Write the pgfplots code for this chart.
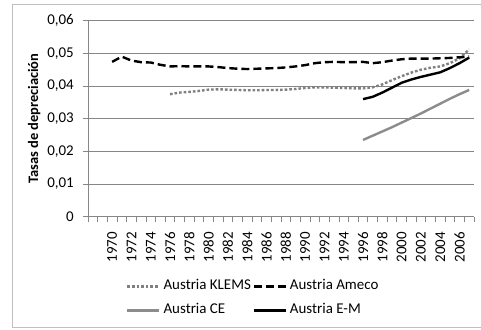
\documentclass[border=0pt]{standalone}
\usepackage{pgfplots}
\pgfplotsset{compat=1.18}
\usepackage{fontspec}
\setmainfont{Carlito}
\definecolor{gridc}{HTML}{868686}
\definecolor{lgray}{HTML}{808080}
\definecolor{cegray}{HTML}{8C8C8C}
\definecolor{frame}{HTML}{BFBFBF}
\begin{document}
\begin{tikzpicture}[x=1bp,y=1bp]
\useasboundingbox (0,0) rectangle (481,329);
\draw[frame, line width=0.8bp] (488,2) -- (12,2) -- (12,325) -- (488,325);
\begin{axis}[
  at={(88bp,112.3bp)}, anchor=south west,
  scale only axis, width=386bp, height=196bp,
  xmin=1967.5, xmax=2007.5, ymin=0, ymax=0.06,
  axis x line*=bottom, axis y line*=left,
  axis line style={gridc, line width=0.8bp},
  every axis plot/.append style={line width=2.4bp, line join=round},
  scaled y ticks=false, scaled x ticks=false,
  ytick={0,0.01,0.02,0.03,0.04,0.05,0.06},
  yticklabels={0,{0,01},{0,02},{0,03},{0,04},{0,05},{0,06}},
  ymajorgrids, major grid style={gridc, line width=0.8bp},
  xtick={1970,1972,...,2006},
  xticklabels={1970,1972,1974,1976,1978,1980,1982,1984,1986,1988,1990,1992,1994,1996,1998,2000,2002,2004,2006},
  major x tick style={draw=none},
  minor xtick={1967.5,1968.5,...,2007.5},
  minor tick length=5bp, major tick length=5bp,
  tick align=outside,
  tick style={gridc, line width=0.8bp},
  yticklabel style={font=\fontsize{15}{18}\selectfont, inner sep=0pt, xshift=-9bp},
  xticklabel style={font=\fontsize{15}{18}\selectfont, rotate=90, anchor=east, inner sep=0pt},
  xticklabel shift=10bp,
  ylabel={\bfseries Tasas de depreciación},
  ylabel style={font=\fontsize{14.5}{17}\selectfont, anchor=south},
  every axis y label/.append style={at={(-44bp,98bp)}},
  legend columns=2,
  legend style={draw=none, fill=none, at={(35bp,-60bp)}, anchor=north west,
    font=\fontsize{15}{18}\selectfont, column sep=3bp, row sep=9bp,
    nodes={inner sep=0pt, text height=11bp, text depth=4bp}},
  legend cell align=left,
  legend image code/.code={\draw[#1] (0bp,0bp) -- (32bp,0bp);},
]
\addplot[lgray, dash pattern=on 2.6bp off 2bp] coordinates {
(1976,0.0375)(1977,0.0380)(1978,0.0382)(1979,0.0385)(1980,0.0389)(1981,0.0390)(1982,0.0389)(1983,0.0388)(1984,0.0387)(1985,0.0387)(1986,0.0388)(1987,0.0388)(1988,0.0389)(1989,0.0391)(1990,0.0394)(1991,0.0396)(1992,0.0396)(1993,0.0395)(1994,0.0394)(1995,0.0393)(1996,0.0393)(1997,0.0396)(1998,0.0405)(1999,0.0418)(2000,0.0430)(2001,0.0441)(2002,0.0450)(2003,0.0456)(2004,0.0460)(2005,0.0470)(2006,0.0485)(2007,0.0512)};
\addlegendentry{\makebox[86bp][l]{Austria KLEMS}}
\addplot[black, dash pattern=on 8bp off 4bp] coordinates {
(1970,0.0474)(1971,0.0490)(1972,0.0478)(1973,0.0473)(1974,0.0472)(1975,0.0465)(1976,0.0460)(1977,0.0461)(1978,0.0460)(1979,0.0460)(1980,0.0460)(1981,0.0458)(1982,0.0455)(1983,0.0453)(1984,0.0452)(1985,0.0453)(1986,0.0454)(1987,0.0455)(1988,0.0457)(1989,0.0460)(1990,0.0464)(1991,0.0470)(1992,0.0473)(1993,0.0474)(1994,0.0473)(1995,0.0473)(1996,0.0474)(1997,0.0470)(1998,0.0473)(1999,0.0478)(2000,0.0482)(2001,0.0484)(2002,0.0484)(2003,0.0484)(2004,0.0485)(2005,0.0486)(2006,0.0488)(2007,0.0490)};
\addlegendentry{Austria Ameco}
\addplot[cegray] coordinates {
(1996,0.0235)(1997,0.0248)(1998,0.0261)(1999,0.0274)(2000,0.0288)(2001,0.0302)(2002,0.0316)(2003,0.0331)(2004,0.0346)(2005,0.0361)(2006,0.0375)(2007,0.0388)};
\addlegendentry{\makebox[86bp][l]{Austria CE}}
\addplot[black] coordinates {
(1996,0.0360)(1997,0.0367)(1998,0.0380)(1999,0.0395)(2000,0.0410)(2001,0.0420)(2002,0.0428)(2003,0.0435)(2004,0.0442)(2005,0.0455)(2006,0.0470)(2007,0.0487)};
\addlegendentry{Austria E-M}
\end{axis}
\end{tikzpicture}
\end{document}
